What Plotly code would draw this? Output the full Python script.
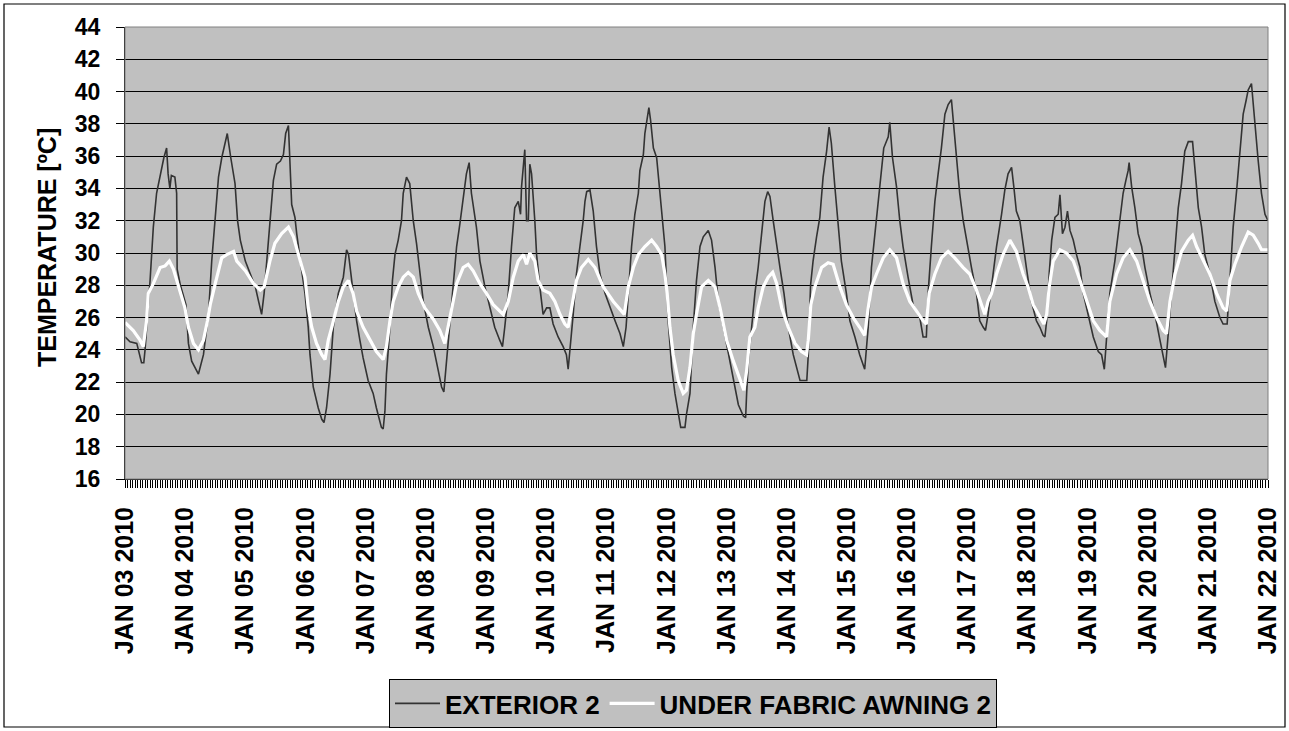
import pandas as pd
import plotly.graph_objects as go

# ---- data (hours since 2010-01-03 00:00, temperature in °C) ----
ext_hours = [0, 2, 4.7, 5.5, 6.6, 7.5, 8, 10, 11.3, 12.6, 14.6, 15.5, 16.6, 17.2, 17.9, 18.5, 19.9, 20.6, 20.8,
             22.1, 24.3, 25.3, 26.6, 29.3, 31.3, 33.3, 34.6, 36, 37.3, 38.6, 40, 40.8, 42.2, 43.9, 44.9, 46, 48,
             50, 52, 53.3, 54.5, 55.5, 56.5, 57.8, 59.2, 60.5, 62, 63.2, 64.1, 65.2, 65.8, 66.5, 67.8, 68.5, 70.5,
             71.8, 73.1, 73.8, 75.1, 77.1, 78.5, 79.4, 80.4, 81.8, 83.1, 85.1, 87.1, 88.4, 89.2, 90.3, 91.2, 92.4,
             93.7, 95, 97, 99, 100.3, 102.3, 103, 103.7, 104.3, 105.7, 106.7, 107.7, 109, 110.3, 111, 112.3, 113.6,
             115, 116.3, 117.6, 119, 121, 123, 125, 126.3, 127.2, 128.3, 129.6, 130.9, 132.3, 133.6, 134.9, 136.2,
             137.3, 138.2, 140.2, 141.6, 143.6, 145.6, 147.5, 149.5, 150.6, 151.5, 152.9, 154.2, 155.5, 156.9,
             157.8, 158.2, 158.9, 159.5, 160.2, 160.9, 161.5, 162.2, 163.5, 164.2, 165.5, 166.8, 168.2, 169.5,
             170.8, 172.8, 174.8, 176.1, 176.8, 177.5, 178.8, 180.1, 181.5, 182.8, 183.5, 184.2, 185.5, 186.8,
             188.1, 189.5, 191.5, 193.5, 195.5, 197.5, 198.8, 199.9, 200.8, 202.1, 203.4, 204.8, 205.4, 206.8,
             207.4, 208.1, 209, 209.7, 210.8, 212.1, 213.4, 214.7, 215.4, 216.7, 218.1, 219.4, 220.7, 221.7,
             223.4, 224, 225.4, 226.7, 228, 229.4, 230.7, 232.7, 234, 235.4, 236.7, 238.7, 240.7, 242.7, 244.7,
             246.7, 247.6, 248, 248.7, 250, 251.3, 252.6, 254, 255.3, 256.4, 257.3, 258.6, 260, 261.3, 262.9,
             264.6, 266.6, 268.6, 269.3, 272, 272.6, 273.5, 274.5, 275.9, 277.2, 278.5, 279.9, 280.9, 281.8,
             283.2, 284.5, 285.8, 287.8, 289.2, 291.2, 293.1, 295.1, 296.5, 297.8, 299.8, 301.8, 302.7, 304.5,
             305.1, 306.2, 307.8, 309.1, 310.4, 312.4, 314.4, 317.1, 318.4, 319.7, 320.4, 321.7, 323.1, 324.4,
             325.7, 327.1, 328.4, 329.7, 330.7, 331.7, 333, 334.4, 335.7, 337.7, 339.7, 341, 342.4, 343.3, 344.3,
             345.7, 347.7, 349.7, 351, 352.3, 353.7, 354.6, 355.6, 357, 358.3, 359.6, 361.6, 363.6, 365, 366.3,
             367, 367.7, 368.7, 369.7, 371, 372.3, 373, 374, 375, 376, 377, 378.3, 379.6, 381, 382.3, 384.3,
             386.3, 388.3, 389.6, 390.7, 391.6, 392.9, 394.9, 396.9, 398.2, 399.3, 400.2, 400.6, 401.6, 402.9,
             404.2, 405.6, 406.9, 408.9, 410.9, 412.9, 414.2, 415.1, 416.2, 417.5, 418.9, 420.2, 421.5, 422.8,
             424.2, 425.9, 426.8, 428.2, 429.5, 430.8, 432.8, 434.8, 436.8, 438.1, 439.7, 440.8, 442.1, 443.5,
             444.8, 446.1, 447.2, 448.1, 449.4, 450.8, 452.1, 453.4, 454.8, 456]
ext_temp = [24.8, 24.5, 24.4, 23.8, 23.2, 23.2, 24.0, 28.3, 31.6, 33.7, 35.3, 35.9, 36.5, 34.9, 34.0, 34.8, 34.7,
            33.7, 29.0, 28.0, 26.8, 24.4, 23.3, 22.5, 23.7, 26.2, 29.5, 32.0, 34.7, 35.9, 36.9, 37.4, 35.9, 34.3,
            32.0, 30.8, 29.5, 28.7, 27.9, 27.0, 26.2, 27.5, 29.5, 32.0, 34.5, 35.5, 35.7, 36.1, 37.4, 37.9, 35.1,
            33.0, 32.2, 31.2, 28.9, 27.5, 25.4, 23.7, 21.7, 20.4, 19.7, 19.5, 20.4, 22.5, 25.4, 27.5, 28.5, 30.2,
            29.9, 28.5, 27.3, 25.8, 24.6, 23.5, 22.1, 21.3, 20.4, 19.2, 19.1, 20.2, 22.5, 25.4, 28.3, 29.9, 30.8,
            32.0, 33.7, 34.7, 34.3, 32.0, 30.6, 28.7, 27.0, 25.4, 24.2, 22.7, 21.7, 21.4, 23.3, 25.4, 27.9, 30.4,
            31.8, 33.5, 34.9, 35.6, 33.7, 31.6, 29.5, 27.9, 26.6, 25.4, 24.6, 24.2, 25.4, 27.5, 30.4, 32.8, 33.2,
            32.4, 34.1, 35.7, 36.4, 32.0, 32.0, 35.5, 34.9, 32.0, 29.9, 27.9, 26.2, 26.6, 26.6, 25.6, 24.8, 24.2,
            23.7, 22.8, 24.2, 26.2, 28.7, 30.4, 32.0, 33.2, 33.8, 33.9, 32.6, 30.4, 28.7, 27.5, 26.6, 25.8, 25.0,
            24.2, 25.4, 27.5, 30.4, 32.4, 33.7, 35.1, 36.1, 37.4, 38.2, 39.0, 38.2, 36.5, 35.9, 33.7, 32.0, 30.4,
            25.8, 22.9, 21.3, 20.2, 19.2, 19.2, 20.0, 21.3, 25.4, 28.3, 30.4, 31.0, 31.4, 30.8, 29.1, 27.0, 25.4,
            23.7, 22.1, 20.6, 19.9, 19.8, 21.3, 23.3, 25.4, 27.5, 29.1, 31.2, 33.2, 33.8, 33.5, 32.0, 30.4, 29.1,
            27.5, 25.4, 23.7, 22.5, 22.1, 22.1, 23.7, 28.0, 29.5, 31.0, 32.2, 34.7, 36.3, 37.8, 36.8, 34.1, 32.0,
            29.5, 27.5, 25.8, 24.8, 23.7, 22.8, 25.4, 29.1, 32.2, 34.9, 36.5, 37.2, 38.1, 35.9, 34.1, 32.0, 30.4,
            28.5, 26.8, 26.0, 24.8, 24.8, 27.5, 30.4, 33.2, 34.9, 36.5, 38.6, 39.2, 39.5, 37.8, 35.9, 33.7, 32.0,
            30.8, 29.1, 27.5, 25.8, 25.4, 25.2, 26.2, 27.9, 30.4, 32.4, 33.9, 34.9, 35.3, 34.1, 32.6, 32.0, 30.4,
            29.1, 27.0, 25.8, 25.4, 24.9, 24.8, 25.8, 28.7, 30.8, 32.2, 32.4, 33.6, 31.2, 31.6, 32.6, 31.4, 30.8,
            29.9, 29.1, 27.5, 26.2, 24.8, 23.9, 23.7, 22.8, 24.6, 27.5, 29.5, 32.0, 33.7, 34.5, 35.1, 35.6, 34.1,
            32.8, 31.2, 30.4, 29.1, 27.5, 26.2, 24.6, 23.7, 22.9, 25.0, 27.5, 30.4, 32.8, 34.3, 36.3, 36.9, 36.9,
            35.3, 32.8, 31.6, 29.9, 28.7, 27.0, 26.0, 25.6, 25.6, 28.5, 31.6, 33.9, 36.1, 38.6, 39.4, 40.1, 40.5,
            37.8, 35.7, 33.7, 32.4, 32.0]

awn_hours = [0, 3.3, 6, 7.3, 8.6, 9.3, 11.3, 14, 16, 17.7, 19.3, 20.6, 21.9, 23.9, 25.3, 27.3, 29.3, 31.3, 32.9,
             34, 36, 38.6, 40.6, 43.3, 44.6, 48, 51.3, 54, 55.5, 56.5, 57.8, 59.8, 62.5, 65.2, 67.2, 69.2, 71.8,
             73.1, 74.5, 76.4, 78.5, 79.8, 81.1, 82.5, 83.8, 85.1, 87.1, 89.1, 91, 92.4, 95, 97.7, 100.3, 103,
             104.3, 105.7, 107, 109, 111, 113, 115, 117, 119.6, 123, 125.6, 127.6, 128.9, 130.3, 132.3, 134.9,
             136.9, 138.9, 141.6, 144.2, 146.9, 150.9, 152.9, 154.9, 156.9, 158.9, 160.2, 161.5, 163.5, 164.8,
             166.8, 169.5, 171.5, 173.5, 175.5, 176.8, 178.1, 180.1, 182.1, 184.8, 187.5, 190.8, 194.8, 199.2,
             200.8, 202.8, 204.8, 207.4, 210.1, 212.1, 214.1, 215.4, 216.3, 217.4, 218.7, 220.7, 222.7, 224,
             225.4, 226.7, 228, 230, 232.7, 235.4, 237.4, 240, 242.7, 245.3, 246.9, 248, 249.3, 251.3, 252.6,
             254.6, 256.6, 258.4, 260, 262, 264.6, 267.3, 269.9, 271.9, 272.6, 273.6, 275.2, 277.9, 280.5,
             282.5, 285.2, 287.8, 290.5, 293.1, 295.1, 296.5, 297.8, 299.8, 302.5, 305.1, 307.8, 310.4, 313.1,
             315.8, 318.4, 319.7, 320.8, 323.1, 325.7, 328.4, 331, 334.4, 337, 339.7, 341.7, 343, 344.3, 345.7,
             347.7, 350.3, 353, 355.6, 358.3, 360.3, 362.3, 364.3, 366.6, 367.7, 368.7, 370.3, 373, 375.6,
             378.3, 381, 383.6, 386.3, 388.9, 391.6, 392.9, 395.6, 398.2, 400.9, 403.6, 406.2, 408.9, 411.5,
             414.2, 415.5, 416.9, 418.9, 421.5, 424.2, 425.9, 427.5, 430.2, 432.8, 435.5, 438.1, 439.5, 440.8,
             442.8, 445.5, 448.1, 450.1, 452.1, 453.4, 456]
awn_temp = [25.7, 25.2, 24.6, 24.2, 25.8, 27.5, 28.1, 29.1, 29.2, 29.5, 29.0, 28.3, 27.5, 26.6, 25.4, 24.4, 24.0,
            24.6, 25.8, 26.8, 28.1, 29.7, 29.9, 30.1, 29.5, 28.9, 28.1, 27.7, 27.9, 28.7, 29.5, 30.6, 31.2, 31.6,
            31.0, 29.9, 28.5, 26.6, 25.4, 24.4, 23.7, 23.4, 24.6, 25.4, 26.2, 27.0, 27.9, 28.3, 27.5, 26.4, 25.4,
            24.6, 23.9, 23.4, 24.2, 25.8, 27.0, 27.9, 28.5, 28.8, 28.5, 27.5, 26.6, 25.9, 25.2, 24.4, 25.4, 26.6,
            28.1, 29.1, 29.3, 28.9, 28.1, 27.5, 26.8, 26.2, 27.0, 28.5, 29.5, 29.9, 29.3, 30.0, 29.5, 28.3, 27.7,
            27.5, 27.0, 26.2, 25.6, 25.4, 26.6, 28.3, 29.1, 29.6, 29.1, 27.9, 27.0, 26.2, 27.9, 29.1, 29.9, 30.4,
            30.8, 30.4, 29.9, 28.7, 27.5, 25.4, 23.7, 22.1, 21.3, 21.5, 22.9, 25.0, 26.2, 27.9, 28.3, 27.9, 26.6,
            24.6, 23.3, 22.1, 21.5, 22.7, 24.8, 25.4, 26.6, 27.9, 28.5, 28.8, 28.1, 26.6, 25.4, 24.4, 23.9, 23.7,
            24.6, 26.8, 27.9, 29.1, 29.4, 29.3, 27.9, 26.8, 26.0, 25.4, 24.9, 26.6, 27.9, 28.7, 29.7, 30.2, 29.7,
            28.1, 27.0, 26.4, 25.8, 25.6, 27.5, 28.7, 29.7, 30.1, 29.7, 29.1, 28.7, 27.7, 26.8, 26.2, 27.0, 27.5,
            28.7, 29.9, 30.8, 30.1, 28.7, 27.9, 26.8, 26.2, 25.6, 26.2, 27.9, 29.5, 30.2, 30.0, 29.5, 28.3, 27.0,
            25.8, 25.2, 24.8, 27.0, 28.7, 29.7, 30.2, 29.5, 28.3, 27.0, 26.0, 25.2, 25.0, 27.0, 28.7, 30.1, 30.8,
            31.1, 30.4, 29.5, 28.7, 27.5, 26.6, 26.4, 28.3, 29.3, 30.4, 31.3, 31.1, 30.6, 30.2, 30.2]

day_labels = ["JAN 03 2010", "JAN 04 2010", "JAN 05 2010", "JAN 06 2010", "JAN 07 2010", "JAN 08 2010",
              "JAN 09 2010", "JAN 10 2010", "JAN 11 2010", "JAN 12 2010", "JAN 13 2010", "JAN 14 2010",
              "JAN 15 2010", "JAN 16 2010", "JAN 17 2010", "JAN 18 2010", "JAN 19 2010", "JAN 20 2010",
              "JAN 21 2010", "JAN 22 2010"]
y_ticks = [16, 18, 20, 22, 24, 26, 28, 30, 32, 34, 36, 38, 40, 42, 44]

base = pd.Timestamp("2010-01-03")
ext_x = base + pd.to_timedelta(ext_hours, unit="h")
awn_x = base + pd.to_timedelta(awn_hours, unit="h")
day_vals = [base + pd.Timedelta(days=i) for i in range(len(day_labels))]

FONT = "Liberation Sans, Arial, sans-serif"

fig = go.Figure()
fig.add_trace(go.Scatter(x=ext_x, y=ext_temp, mode="lines", name="EXTERIOR 2",
                         line=dict(color="#333333", width=1.6)))
fig.add_trace(go.Scatter(x=awn_x, y=awn_temp, mode="lines", name="UNDER FABRIC AWNING 2",
                         line=dict(color="#ffffff", width=3.2)))

L, R, T, B = 125, 21, 27, 252
W, H = 1289, 731
pw, ph = W - L - R, H - T - B

def px(xp):
    return (xp - L) / pw

def py(yp):
    return (H - B - yp) / ph

fig.update_layout(
    width=W, height=H,
    margin=dict(l=L, r=R, t=T, b=B, autoexpand=False),
    paper_bgcolor="white", plot_bgcolor="#c0c0c0",
    font=dict(family=FONT, color="black", size=20, weight="bold"),
    showlegend=True,
    legend=dict(orientation="h", x=px(693), xanchor="center", y=py(679), yanchor="top",
                bgcolor="#c0c0c0", bordercolor="black", borderwidth=1,
                font=dict(family=FONT, size=26, weight="bold", color="black"),
                itemwidth=45, tracegroupgap=0),
    xaxis=dict(type="date", range=[day_vals[0], day_vals[-1]],
               tickmode="array", tickvals=day_vals, ticktext=day_labels, tickangle=-90,
               tickfont=dict(family=FONT, size=25, weight="bold"),
               ticks="outside", ticklen=8, tickcolor="black", tickwidth=1,
               minor=dict(ticks="outside", dtick=3600000, tick0=day_vals[0], ticklen=8,
                          tickcolor="#000000", tickwidth=1, showgrid=False),
               showgrid=False, showline=True, linecolor="black", linewidth=1,
               zeroline=False, ticklabelstandoff=9, fixedrange=True),
    yaxis=dict(range=[16, 44], tickmode="array", tickvals=y_ticks,
               tickfont=dict(family=FONT, size=23, weight="bold"),
               ticks="outside", ticklen=8, tickcolor="black", tickwidth=1,
               showgrid=True, gridcolor="black", gridwidth=1,
               showline=True, linecolor="black", linewidth=1,
               zeroline=False, ticklabelstandoff=11, fixedrange=True),
)

fig.add_annotation(text="TEMPERATURE [ºC]", textangle=-90, xref="paper", yref="paper",
                   x=px(47), y=py(248), xanchor="center", yanchor="middle", showarrow=False,
                   font=dict(family=FONT, size=25, weight="bold", color="black"))

# plot-area frame and outer chart border
fig.add_shape(type="rect", xref="paper", yref="paper", x0=0, y0=0, x1=1, y1=1,
              line=dict(color="#808080", width=1), layer="above")
fig.add_shape(type="rect", xref="paper", yref="paper", x0=px(4), y0=py(727), x1=px(1285), y1=py(4),
              line=dict(color="black", width=1.2), layer="above")

# the page body gets no default margin, so the figure sits at the window's top-left corner
fig.write_html("out.html", config={"displayModeBar": False},
               post_script="document.body.style.margin='0px';")
